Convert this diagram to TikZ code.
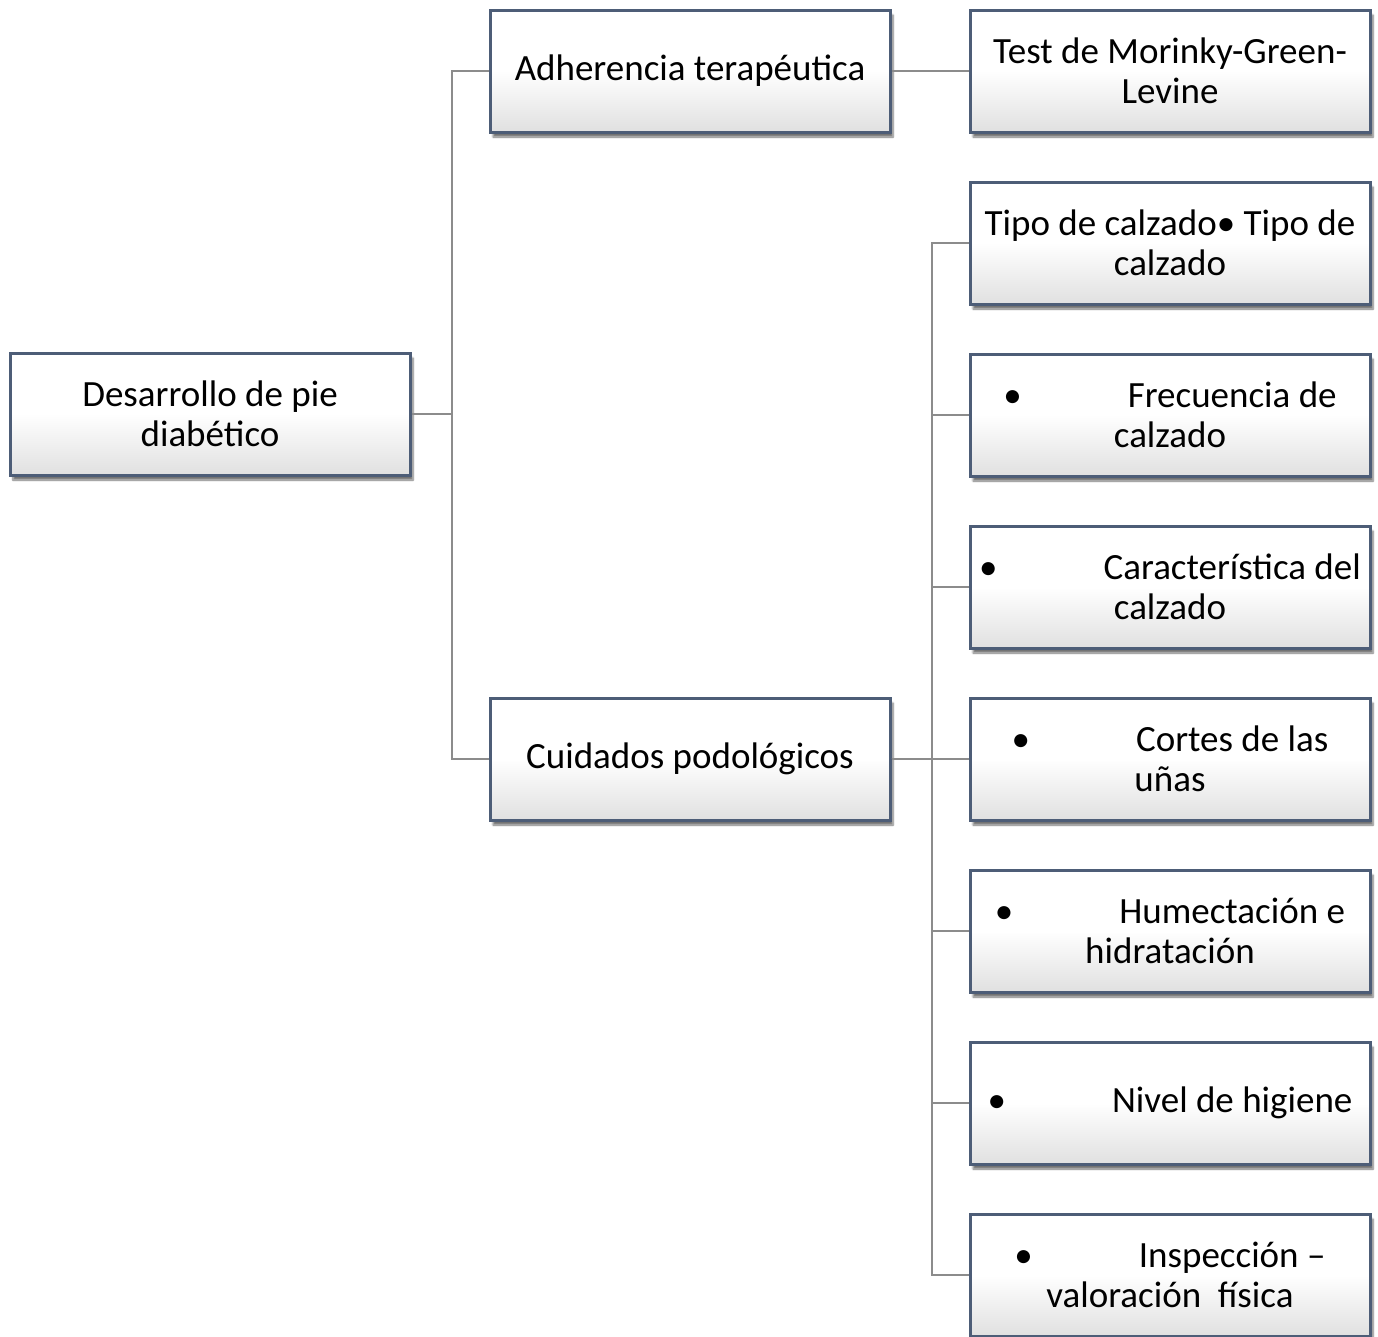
\documentclass[tikz,border=0pt]{standalone}
\usepackage{fontspec}
\setmainfont{Carlito}
\usepackage{tikz}
\usetikzlibrary{shadows.blur}
\definecolor{boxline}{HTML}{4D5D77}
\definecolor{linkgray}{HTML}{8C8C8C}
\tikzset{
  caja/.style={draw=boxline, line width=3pt, rectangle, minimum width=400pt,
    minimum height=122pt, inner sep=0pt, align=center, top color=white,
    bottom color=black!12, middle color=white,
    blur shadow={shadow xshift=3pt, shadow yshift=-5pt, shadow opacity=55, shadow blur steps=6},
    font=\fontsize{37}{40}\selectfont},
  enlace/.style={draw=linkgray, line width=2pt}
}
\newcommand{\vin}[1]{\textbullet\hspace{106pt}#1}

\begin{document}
\begin{tikzpicture}[x=1pt,y=-1pt]
\useasboundingbox (0,0) rectangle (1378,1336);

\node[caja] (pie) at (210,414) {Desarrollo de pie\\diabético};
\node[caja] (adher) at (690,71) {Adherencia terapéutica};
\node[caja] (cuid) at (690,759) {Cuidados podológicos};
\node[caja] (test) at (1170,71) {Test de Morinky-Green-\\Levine};

\foreach \i/\txt in {1/{Tipo de calzado• Tipo de\\calzado},
    2/{\vin{Frecuencia de}\\calzado},
    3/{\vin{Característica del}\\calzado},
    4/{\vin{Cortes de las}\\uñas},
    5/{\vin{Humectación e}\\hidratación},
    6/{\vin{Nivel de higiene}},
    7/{\vin{Inspección –}\\valoración\ \ física}}
  \node[caja] (c\i) at (1170,71+172*\i) {\txt};

% enlaces
\draw[enlace] (pie.east) -- ++(40,0) |- (adher.west);
\draw[enlace] (pie.east) -- ++(40,0) |- (cuid.west);
\draw[enlace] (adher.east) -- (test.west);
\foreach \i in {1,...,7}
  \draw[enlace] (cuid.east) -- ++(40,0) |- (c\i.west);

\end{tikzpicture}
\end{document}
